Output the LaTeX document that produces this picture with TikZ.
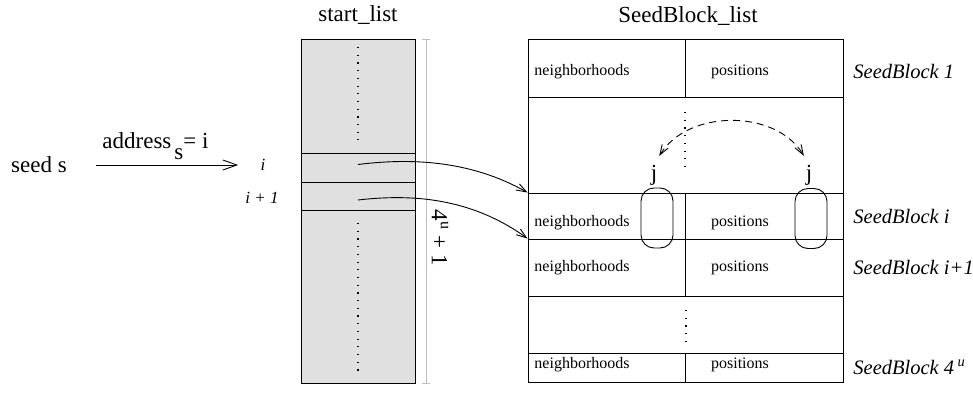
\documentclass[tikz,border=0pt]{standalone}
\usepackage{fontspec}
\setmainfont{Liberation Serif}
\usetikzlibrary{arrows.meta}
\definecolor{cellgray}{RGB}{224,224,224}
\definecolor{rulegray}{RGB}{190,190,190}
\newcommand{\bigsize}{\fontsize{23}{27}\selectfont}
\newcommand{\cellsize}{\fontsize{16}{19}\selectfont}
\newcommand{\idxsize}{\fontsize{17}{20}\selectfont\itshape}
\newcommand{\blocksize}{\fontsize{20.5}{24}\selectfont\itshape}

\begin{document}
\begin{tikzpicture}
[x=1pt,y=-1pt,line width=0.9pt,
 every node/.style={inner sep=0pt,font=\bigsize},
 row/.style={draw,rectangle,minimum width=315pt},
 slot/.style={draw,rectangle,fill=cellgray,minimum width=114pt},
 cell/.style={font=\cellsize},
 block/.style={font=\blocksize,anchor=west},
 dots/.style={dash pattern=on 1.2pt off 6.5pt,line width=1.2pt},
 barb/.style={-{Straight Barb[length=10pt,width=7pt]}},
 jbox/.style={draw,rectangle,rounded corners=13pt,minimum width=32pt,minimum height=60pt}]
\useasboundingbox (0,0) rectangle (973,412);
% start_list
\node (stitle) at (358,15) {start\_list};
\node[slot,minimum height=114pt] (stop) at (358,96) {};
\node[slot,minimum height=29pt] (si) at (358,167.5) {};
\node[slot,minimum height=28pt] (si1) at (358,196) {};
\node[slot,minimum height=173pt] (sbot) at (358,296.5) {};
\draw[dots] (358,47) -- (358,140);
\draw[dots] (358,223) -- (358,373);
\draw[rulegray,line width=0.8pt] (422,39) -- (430,39) (426,39) -- (426,383) (422,383) -- (430,383);
\node[rotate=-90] (len) at (440,238) {4\textsuperscript{u} + 1};
% SeedBlock_list
\node (btitle) at (688,16) {SeedBlock\_list};
\node[row,minimum height=58pt] (b1) at (685.5,68) {};
\node[row,minimum height=96pt] (g1) at (685.5,145) {};
\node[row,minimum height=46pt] (bi) at (685.5,216) {};
\node[row,minimum height=57pt] (bi1) at (685.5,267.5) {};
\node[row,minimum height=57pt] (g2) at (685.5,324.5) {};
\node[row,minimum height=29pt] (bn) at (685.5,367.5) {};
\foreach \r in {b1,bi,bi1,bn}
\draw (\r.north) -- (\r.south);
\draw[dots] (685,112) -- (685,167);
\draw[dots] (686,310) -- (686,342);
\foreach \r/\y in {b1/72,bi/223,bi1/268,bn/365} {
\node[cell,anchor=west] (\r-n) at (534,\y) {neighborhoods};
\node[cell] (\r-p) at (740,\y) {positions};
}
\foreach \r/\y/\t in {b1/71/1,bi/216/i,bi1/267/i+1,bn/367/{4\,\textsuperscript{u}}}
\node[block] (\r-lab) at (853,\y) {SeedBlock \t};
% j columns
\node[jbox] (jn) at (657,218) {};
\node[jbox] (jp) at (811,218.5) {};
\node (jl) at (654,175) {j};
\node (jr) at (809,175) {j};
\draw[dash pattern=on 7pt off 5pt,{Straight Barb[length=10pt,width=7pt]}-{Straight Barb[length=10pt,width=7pt]},shorten <=10pt,shorten >=10pt]
(jl.north) .. controls (688,109) and (776,109) .. (jr.north);
% seed s
\node (seed) at (39,165) {seed s};
\node[font=\idxsize] (li) at (263,165) {i};
\node[font=\idxsize] (li1) at (262,198) {i + 1};
\node[anchor=base west] (addr) at (102,148) {address\kern3pt\raisebox{-11pt}{s}= i};
\draw[-{Straight Barb[length=14pt,width=10pt]},shorten <=29pt,shorten >=22pt] (seed) -- (li);
\draw[barb] ([yshift=3pt]si.center) .. controls (410,158) and (470,160) .. (bi.north west);
\draw[barb] ([yshift=-4pt]si1.center) .. controls (410,194) and (470,197) .. (bi1.north west);
\end{tikzpicture}
\end{document}
